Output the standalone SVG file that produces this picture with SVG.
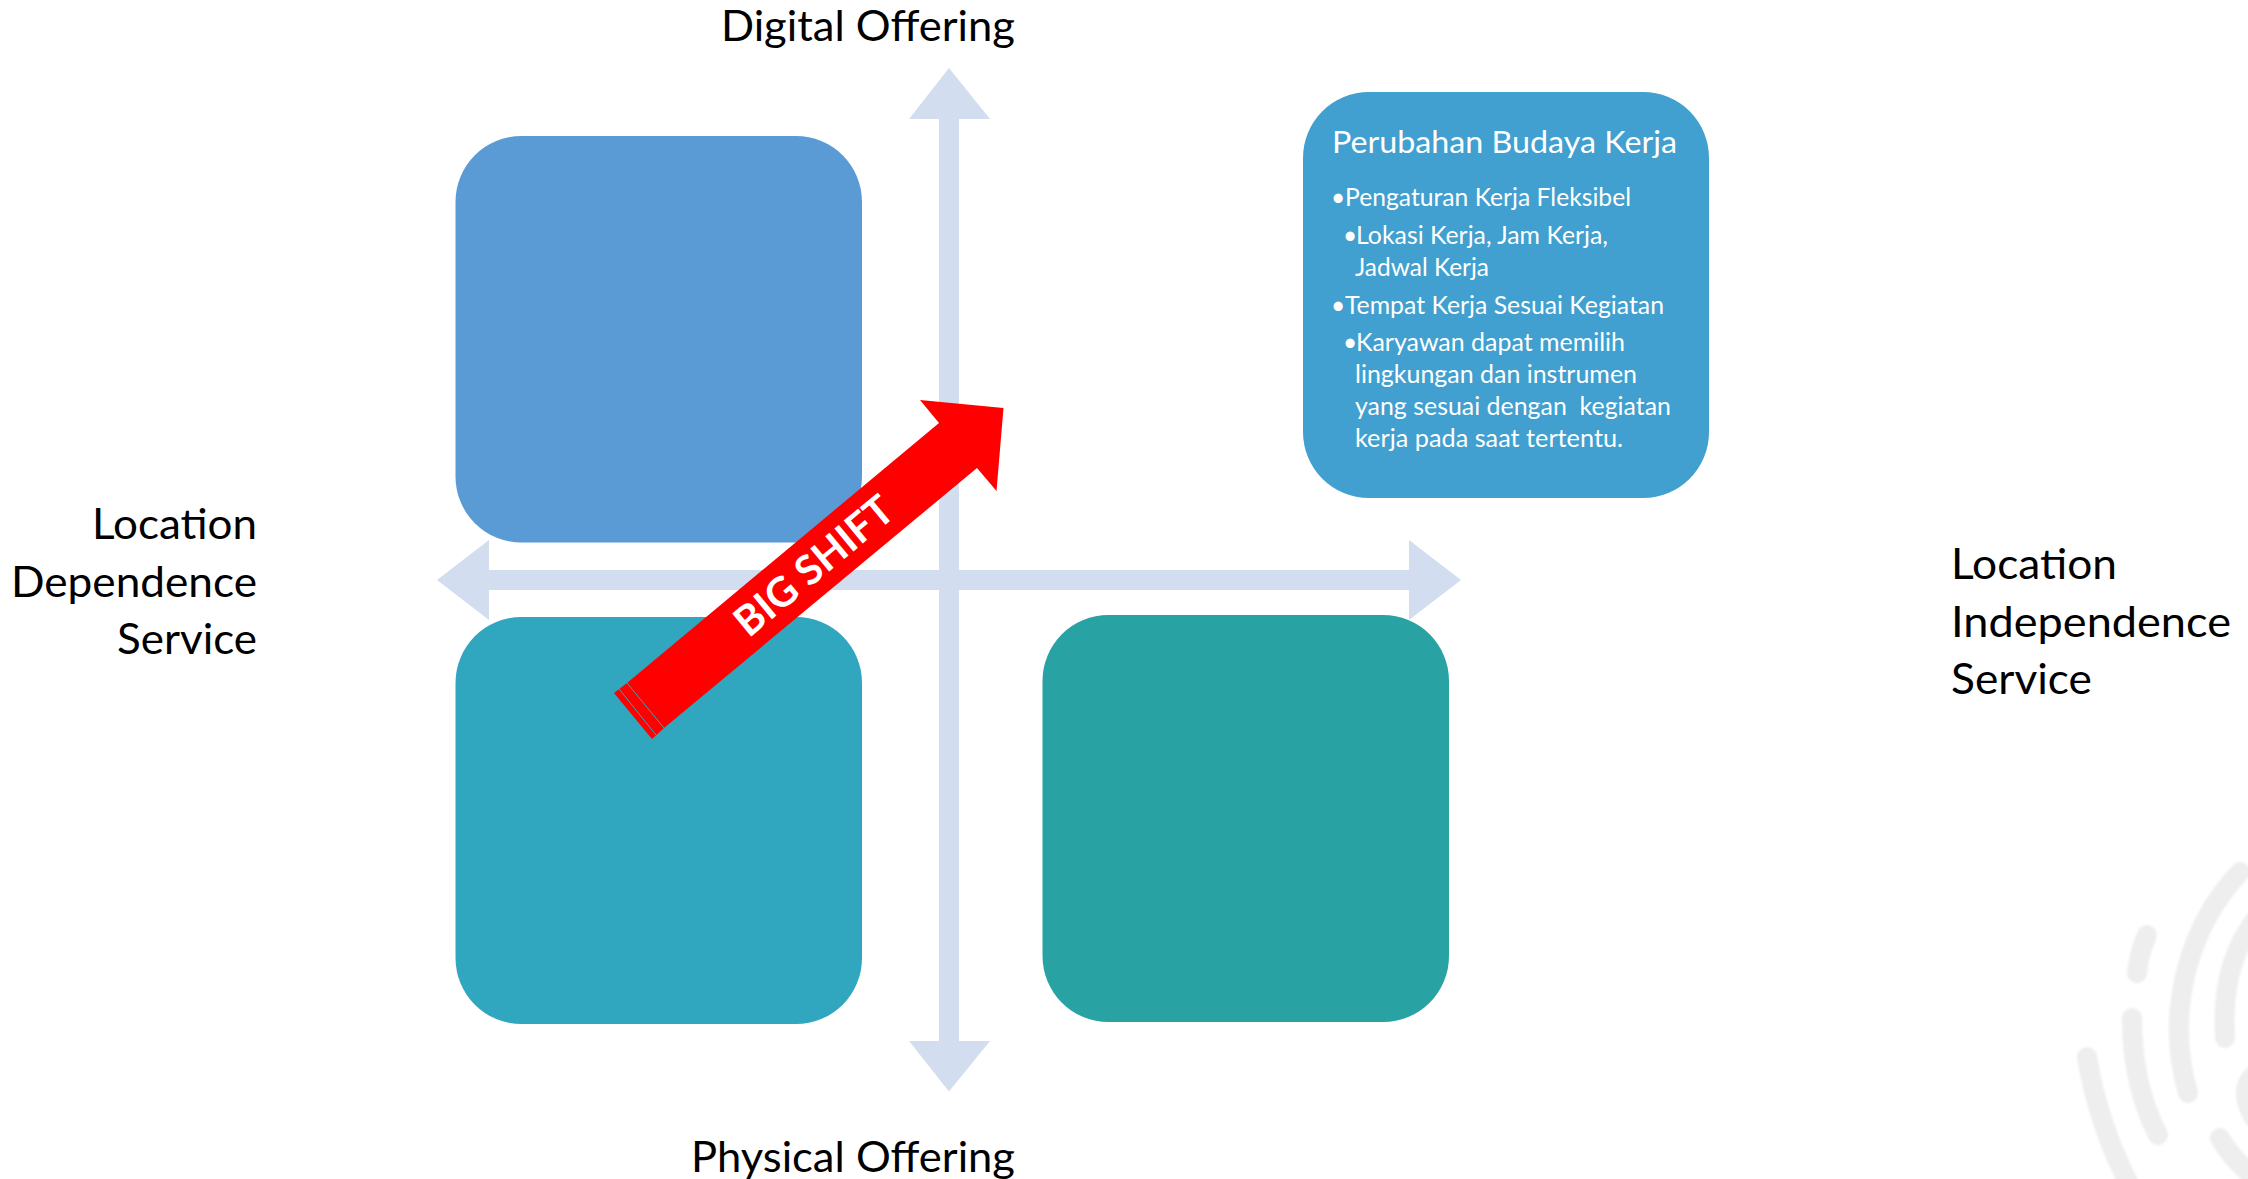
<svg xmlns="http://www.w3.org/2000/svg" width="2248" height="1179" viewBox="0 0 2248 1179">
<style>
text{font-family:"Lato","Open Sans",sans-serif}
.label{font-size:43px;fill:#000}
.title{font-size:30px;fill:#fff}
.body{font-size:24.5px;fill:#fff}
.box{stroke:none}
.wm{fill:none;stroke:#eeeeee;stroke-width:20;stroke-linecap:round}
</style>
<defs><filter id="soft" x="-10%" y="-10%" width="120%" height="120%"><feGaussianBlur stdDeviation="1"/></filter></defs>
<rect width="2248" height="1179" fill="#fff"/>
<g id="watermark" class="wm" filter="url(#soft)">
<path d="M2147 935Q2139 953 2137 973"/>
<path d="M2240 872C2190 925 2164 1010 2188 1093"/>
<path d="M2262 912C2232 945 2222 990 2225 1038"/>
<path d="M2132 1018C2132 1060 2140 1100 2158 1135"/>
<path d="M2087 1057C2095 1105 2110 1150 2135 1195"/>
<path d="M2254 1075Q2238 1090 2254 1118"/>
<path d="M2220 1138Q2232 1160 2258 1180"/>
</g>
<g id="node-top-left"><rect class="box" x="455.500" y="136" width="406.500" height="406.500" rx="66" fill="#5B9BD5"/></g>
<g id="node-bottom-left"><rect class="box" x="455.500" y="617" width="406.500" height="407" rx="66" fill="#30A6BF"/></g>
<g id="node-bottom-right"><rect class="box" x="1042.500" y="615" width="406.500" height="407" rx="66" fill="#29A2A4"/></g>
<g id="connectors">
<path id="axis-vertical" fill="#D2DEEF" d="M949 68L990 119H959V1041H990L949 1091.500L909 1041H939V119H909Z"/>
<path id="axis-horizontal" fill="#D2DEEF" d="M437 580L489 540V570H1409V540L1461 580L1409 620V590H489V620Z"/>
</g>
<g id="node-info">
<rect class="box" x="1303" y="92" width="406" height="406" rx="66" fill="#41A0CF"/>
<text class="title" x="1332" y="153" textLength="345" lengthAdjust="spacingAndGlyphs">Perubahan Budaya Kerja</text>
<text class="body" x="1331" y="206">•</text><text class="body" x="1345" y="206" textLength="286" lengthAdjust="spacingAndGlyphs">Pengaturan Kerja Fleksibel</text>
<text class="body" x="1343" y="244">•</text><text class="body" x="1356" y="244" textLength="252" lengthAdjust="spacingAndGlyphs">Lokasi Kerja, Jam Kerja,</text>
<text class="body" x="1355" y="276" textLength="134" lengthAdjust="spacingAndGlyphs">Jadwal Kerja</text>
<text class="body" x="1331" y="314">•</text><text class="body" x="1345" y="314" textLength="319" lengthAdjust="spacingAndGlyphs">Tempat Kerja Sesuai Kegiatan</text>
<text class="body" x="1343" y="351">•</text><text class="body" x="1356" y="351" textLength="269" lengthAdjust="spacingAndGlyphs">Karyawan dapat memilih</text>
<text class="body" x="1355" y="383" textLength="282" lengthAdjust="spacingAndGlyphs">lingkungan dan instrumen</text>
<text class="body" x="1355" y="415" textLength="316" lengthAdjust="spacingAndGlyphs" xml:space="preserve">yang sesuai dengan  kegiatan</text>
<text class="body" x="1355" y="447" textLength="268" lengthAdjust="spacingAndGlyphs">kerja pada saat tertentu.</text>
</g>
<g id="node-big-shift">
<path fill="#FF0000" d="M920 400L1003.500 408L996.500 491L977 468L664 728L652 739L614 693L627 683L939 423Z"/>
<path fill="none" stroke="#30A6BF" stroke-width="1" d="M619 689L656 735M627 683L664 728"/>
<text transform="translate(814 566) rotate(-39.800)" text-anchor="middle" y="14" font-size="41" font-weight="700" fill="#fff">BIG SHIFT</text>
</g>
<g id="labels">
<text class="label" x="721" y="41" textLength="294" lengthAdjust="spacingAndGlyphs">Digital Offering</text>
<text class="label" x="691" y="1172" textLength="324" lengthAdjust="spacingAndGlyphs">Physical Offering</text>
<text class="label" x="92" y="539" textLength="165" lengthAdjust="spacingAndGlyphs">Location</text>
<text class="label" x="11" y="597" textLength="246" lengthAdjust="spacingAndGlyphs">Dependence</text>
<text class="label" x="117" y="654" textLength="140" lengthAdjust="spacingAndGlyphs">Service</text>
<text class="label" x="1951" y="579" textLength="166" lengthAdjust="spacingAndGlyphs">Location</text>
<text class="label" x="1951" y="637" textLength="280" lengthAdjust="spacingAndGlyphs">Independence</text>
<text class="label" x="1951" y="694" textLength="141" lengthAdjust="spacingAndGlyphs">Service</text>
</g>
</svg>
